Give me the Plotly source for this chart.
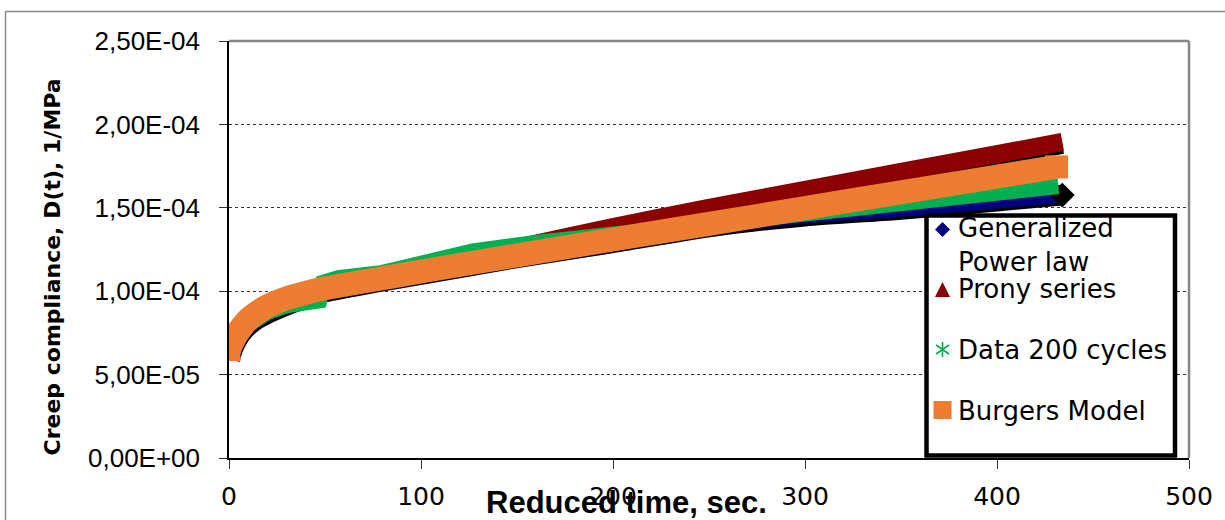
import plotly.graph_objects as go

# ---------------- data (compliance in units of 1e-4 1/MPa) ----------------
SCALE = 1e-4

gpl_t = [1, 3, 6, 10, 15, 20, 30, 40, 50, 75, 100, 150, 200, 250, 300, 350, 400, 434]
gpl_d = [0.61, 0.68, 0.745, 0.80, 0.845, 0.875, 0.925, 0.97, 1.005, 1.06, 1.11, 1.21,
         1.30, 1.395, 1.46, 1.50, 1.55, 1.585]

prony_t = [0, 2, 5, 10, 20, 30, 50, 75, 100, 150, 200, 250, 300, 350, 400, 434]
prony_d = [0.65, 0.70, 0.76, 0.825, 0.905, 0.95, 1.01, 1.07, 1.14, 1.26, 1.385, 1.50,
           1.607, 1.715, 1.822, 1.895]

data_t = [0, 2, 5, 10, 15, 20, 30, 40, 47, 49, 57, 80, 100, 110, 127, 162, 214, 260,
          300, 360, 432]
data_d = [0.65, 0.70, 0.745, 0.80, 0.845, 0.875, 0.915, 0.935, 0.945, 1.05, 1.079, 1.11,
          1.165, 1.189, 1.239, 1.293, 1.359, 1.42, 1.47, 1.54, 1.63]

burgers_t = [0, 2, 5, 10, 15, 20, 30, 40, 50, 70, 100, 150, 200, 250, 300, 350, 400, 431]
burgers_d = [0.65, 0.70, 0.76, 0.83, 0.875, 0.91, 0.957, 0.99, 1.017, 1.058, 1.118, 1.215,
             1.31, 1.404, 1.498, 1.593, 1.687, 1.745]

y_tick_vals = [0, 5e-5, 1e-4, 1.5e-4, 2e-4, 2.5e-4]
y_tick_text = ["0,00E+00", "5,00E-05", "1,00E-04", "1,50E-04", "2,00E-04", "2,50E-04"]
x_tick_vals = [0, 100, 200, 300, 400, 500]

legend_names = ["Generalized", "Power law", "Prony series", "Data 200 cycles", "Burgers Model"]

# ---------------- styles ----------------
NAVY = "#000080"
RED = "#8B0000"
GREEN = "#00B050"
ORANGE = "#ED7D31"
SHADOW = 0.018  # shadow offset of black marker borders (1e-4 units)

W, H = 1225, 520
L, R, T, B = 229, 36, 41, 62
PW, PH = W - L - R, H - T - B


def px(x):
    return (x - L) / PW


def py(y):
    return (H - B - y) / PH


def sc(vals, off=0.0):
    return [(v - off) * SCALE for v in vals]


def ends(vals):
    return [vals[0], vals[-1]]


fig = go.Figure()

# Generalized power law
fig.add_trace(go.Scatter(x=gpl_t, y=sc(gpl_d, SHADOW), mode="lines",
                         line=dict(color="black", width=18, shape="spline", smoothing=0.6),
                         showlegend=False, hoverinfo="skip"))
fig.add_trace(go.Scatter(x=gpl_t, y=sc(gpl_d), mode="lines",
                         line=dict(color=NAVY, width=18, shape="spline", smoothing=0.6),
                         name="Generalized Power law", showlegend=False))
fig.add_trace(go.Scatter(x=gpl_t[-1:], y=sc(gpl_d[-1:], SHADOW * 0.5), mode="markers",
                         marker=dict(symbol="diamond", size=19, color="black", opacity=1),
                         showlegend=False, hoverinfo="skip"))
# Prony series
fig.add_trace(go.Scatter(x=prony_t, y=sc(prony_d, SHADOW), mode="lines",
                         line=dict(color="black", width=18, shape="spline", smoothing=0.6),
                         showlegend=False, hoverinfo="skip"))
fig.add_trace(go.Scatter(x=prony_t, y=sc(prony_d), mode="lines",
                         line=dict(color=RED, width=18, shape="spline", smoothing=0.6),
                         name="Prony series", showlegend=False))
# Data 200 cycles
fig.add_trace(go.Scatter(x=data_t, y=sc(data_d), mode="lines",
                         line=dict(color=GREEN, width=16),
                         name="Data 200 cycles", showlegend=False))
# Burgers model
fig.add_trace(go.Scatter(x=burgers_t, y=sc(burgers_d), mode="lines",
                         line=dict(color=ORANGE, width=24, shape="spline", smoothing=0.6),
                         name="Burgers Model", showlegend=False))
fig.add_trace(go.Scatter(x=ends(burgers_t), y=sc(ends(burgers_d)), mode="markers",
                         marker=dict(symbol="square", size=23, color=ORANGE, opacity=1,
                                     line=dict(width=0)),
                         showlegend=False, hoverinfo="skip"))

shapes = []
# plot-area border (top / right, grey)
shapes.append(dict(type="line", xref="paper", yref="paper", x0=0, x1=1, y0=1, y1=1,
                   line=dict(color="#868686", width=2.5)))
shapes.append(dict(type="line", xref="paper", yref="paper", x0=1, x1=1, y0=0, y1=1,
                   line=dict(color="#868686", width=2.5)))
# outer chart border (top / left)
shapes.append(dict(type="line", xref="paper", yref="paper", x0=px(5.5), x1=px(1240),
                   y0=py(11.5), y1=py(11.5), line=dict(color="#8a8a8a", width=1.5)))
shapes.append(dict(type="line", xref="paper", yref="paper", x0=px(5.5), x1=px(5.5),
                   y0=py(11.5), y1=py(540), line=dict(color="#8a8a8a", width=1.5)))
# legend box
shapes.append(dict(type="rect", xref="paper", yref="paper", x0=px(926.5), x1=px(1175),
                   y0=py(455.5), y1=py(215.5), line=dict(color="black", width=4.5),
                   fillcolor="white"))
# legend symbols
cx = 942.5
cy = 229.5
shapes.append(dict(type="path", xref="paper", yref="paper",
                   path=f"M {px(cx-7.5)} {py(cy)} L {px(cx)} {py(cy-7.5)} L {px(cx+7.5)} {py(cy)} "
                        f"L {px(cx)} {py(cy+7.5)} Z",
                   fillcolor=NAVY, line=dict(width=0)))
cy = 290
shapes.append(dict(type="path", xref="paper", yref="paper",
                   path=f"M {px(cx-7.5)} {py(cy+7)} L {px(cx+7.5)} {py(cy+7)} L {px(cx)} {py(cy-8)} Z",
                   fillcolor=RED, line=dict(width=0)))
cy = 349.5
for (dx, dy) in [(0, 7.5), (6.5, 4.5), (6.5, -4.5)]:
    shapes.append(dict(type="line", xref="paper", yref="paper",
                       x0=px(cx - dx), x1=px(cx + dx), y0=py(cy - dy), y1=py(cy + dy),
                       line=dict(color=GREEN, width=1.6)))
cy = 410
shapes.append(dict(type="rect", xref="paper", yref="paper", x0=px(933.5), x1=px(951.5),
                   y0=py(cy + 9), y1=py(cy - 9), fillcolor=ORANGE, line=dict(width=0)))

annotations = []
for name, yc in zip(legend_names, [228, 262, 289, 349.5, 410.5]):
    annotations.append(dict(text=name, xref="paper", yref="paper", x=px(956), y=py(yc),
                            xanchor="left", yanchor="middle", showarrow=False,
                            font=dict(family="DejaVu Sans", size=26, color="black")))
annotations.append(dict(text="<b>Creep compliance, D(t), 1/MPa</b>", xref="paper", yref="paper",
                        x=px(52), y=py(267.5), xanchor="center", yanchor="middle",
                        textangle=-90, showarrow=False,
                        font=dict(family="DejaVu Sans", size=22, color="black")))
annotations.append(dict(text="<b>Reduced time, sec.</b>", xref="paper", yref="paper",
                        x=px(626), y=py(502.5), xanchor="center", yanchor="middle",
                        showarrow=False,
                        font=dict(family="Liberation Sans", size=31, color="black")))

fig.update_layout(
    width=W, height=H,
    margin=dict(l=L, r=R, t=T, b=B, pad=0, autoexpand=False),
    paper_bgcolor="white", plot_bgcolor="white",
    showlegend=False,
    shapes=shapes,
    annotations=annotations,
    xaxis=dict(range=[0, 500], tickvals=x_tick_vals, ticks="outside", ticklen=9,
               tickwidth=1.3, tickcolor="#333333", showline=True, linecolor="black",
               linewidth=1.5, showgrid=False, zeroline=False, ticklabelstandoff=6,
               automargin=False,
               tickfont=dict(family="DejaVu Sans", size=25, color="black")),
    yaxis=dict(range=[0, 2.5e-4], tickvals=y_tick_vals, ticktext=y_tick_text,
               ticks="outside", ticklen=8, tickwidth=1.3, tickcolor="#333333",
               showline=True, linecolor="black", linewidth=1.5,
               showgrid=True, gridcolor="#333333", gridwidth=1, griddash="dot",
               zeroline=False, ticklabelstandoff=14, automargin=False,
               tickfont=dict(family="Liberation Sans", size=26, color="black")),
)

fig.write_html("out.html")
